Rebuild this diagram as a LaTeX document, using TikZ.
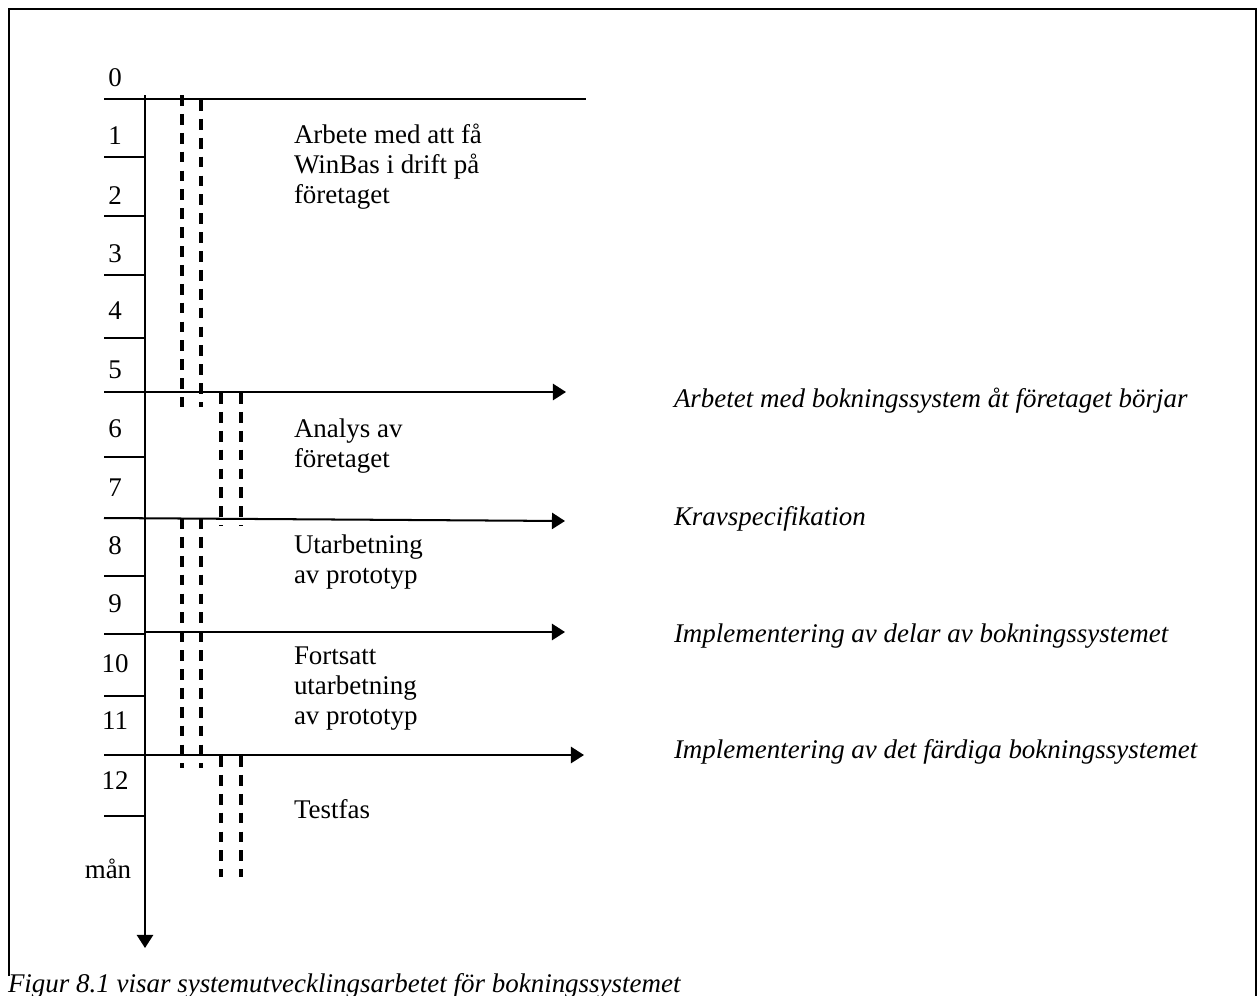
\documentclass[tikz,border=0pt]{standalone}
\usepackage{fontspec}
\setmainfont{Liberation Serif}
\usetikzlibrary{arrows.meta}
\begin{document}
\begin{tikzpicture}[x=0.445pt,y=-0.445pt,
  every node/.style={font=\fontsize{12pt}{13.35pt}\selectfont, inner sep=0pt, outer sep=0pt},
  rule/.style={line width=0.9pt},
  milestone/.style={line width=0.9pt,-{Triangle[length=5.8pt,width=7.2pt]}},
  phase/.style={line width=1.4pt, dash pattern=on 4.8pt off 3.6pt},
  num/.style={anchor=base},
  phasetext/.style={anchor=base west},
  event/.style={anchor=base west, font=\fontsize{12pt}{13.35pt}\selectfont\itshape},
]
\useasboundingbox (0,0) rectangle (1258,995);

% outer frame (open at the bottom, where the caption sits)
\draw[rule] (9,976) -- (9,9) -- (1256,9) -- (1256,1010);

% time axis
\coordinate (axtop) at (145,95);
\coordinate (axend) at (145,948);
\draw[milestone] (axtop) -- (axend);

% month numbers
\node[num] (n0)  at (115,86)  {0};
\node[num] (n1)  at (115,144) {1};
\node[num] (n2)  at (115,204) {2};
\node[num] (n3)  at (115,262) {3};
\node[num] (n4)  at (115,319) {4};
\node[num] (n5)  at (115,378) {5};
\node[num] (n6)  at (115,437) {6};
\node[num] (n7)  at (115,496) {7};
\node[num] (n8)  at (115,554) {8};
\node[num] (n9)  at (115,612) {9};
\node[num] (n10) at (115,672) {10};
\node[num] (n11) at (115,729) {11};
\node[num] (n12) at (115,789) {12};
\node[num] (unit) at (108,878) {mån};

% month ticks left of the axis
\foreach \y in {157,216,275,338,457,576,634,696,816}
  \draw[rule] (104,\y) -- (146,\y);

% start line
\coordinate (s0) at (104,99);
\coordinate (s1) at (586,99);
\draw[rule] (s0) -- (s1);

% milestones
\coordinate (m1a) at (104,392); \coordinate (m1b) at (566,392);
\coordinate (m2a) at (104,518); \coordinate (m2b) at (565,521);
\coordinate (m3a) at (145,632); \coordinate (m3b) at (565,632);
\coordinate (m4a) at (104,755); \coordinate (m4b) at (584,755);
\draw[milestone] (m1a) -- (m1b);
\draw[milestone] (m2a) -- (m2b);
\draw[milestone] (m3a) -- (m3b);
\draw[milestone] (m4a) -- (m4b);

% phase bars (pairs of dashed lines)
\coordinate (a1t) at (182,95);  \coordinate (a1b) at (182,407);
\coordinate (a2t) at (201,100); \coordinate (a2b) at (201,407);
\coordinate (b1t) at (221,393); \coordinate (b1b) at (221,526);
\coordinate (b2t) at (241,393); \coordinate (b2b) at (241,526);
\coordinate (c1t) at (182,518); \coordinate (c1b) at (182,768);
\coordinate (c2t) at (201,518); \coordinate (c2b) at (201,768);
\coordinate (d1t) at (221,756); \coordinate (d1b) at (221,877);
\coordinate (d2t) at (241,756); \coordinate (d2b) at (241,877);
\foreach \p in {a1,a2,b1,b2,c1,c2,d1,d2}
  \draw[phase] (\p t) -- (\p b);

% phase descriptions
\node[phasetext] (p1) at (294,143) {\parbox[t]{6cm}{Arbete med att få\\WinBas i drift på\\företaget}};
\node[phasetext] (p2) at (294,437) {\parbox[t]{6cm}{Analys av\\företaget}};
\node[phasetext] (p3) at (294,553) {\parbox[t]{6cm}{Utarbetning\\av prototyp}};
\node[phasetext] (p4) at (294,664) {\parbox[t]{6cm}{Fortsatt\\utarbetning\\av prototyp}};
\node[phasetext] (p5) at (294,818) {Testfas};

% milestone descriptions
\node[event] (e1) at (674,407) {Arbetet med bokningssystem åt företaget börjar};
\node[event] (e2) at (674,525) {Kravspecifikation};
\node[event] (e3) at (674,642) {Implementering av delar av bokningssystemet};
\node[event] (e4) at (674,758) {Implementering av det färdiga bokningssystemet};

% caption
\node[event] (cap) at (8,992) {Figur 8.1 visar systemutvecklingsarbetet för bokningssystemet};
\end{tikzpicture}
\end{document}
